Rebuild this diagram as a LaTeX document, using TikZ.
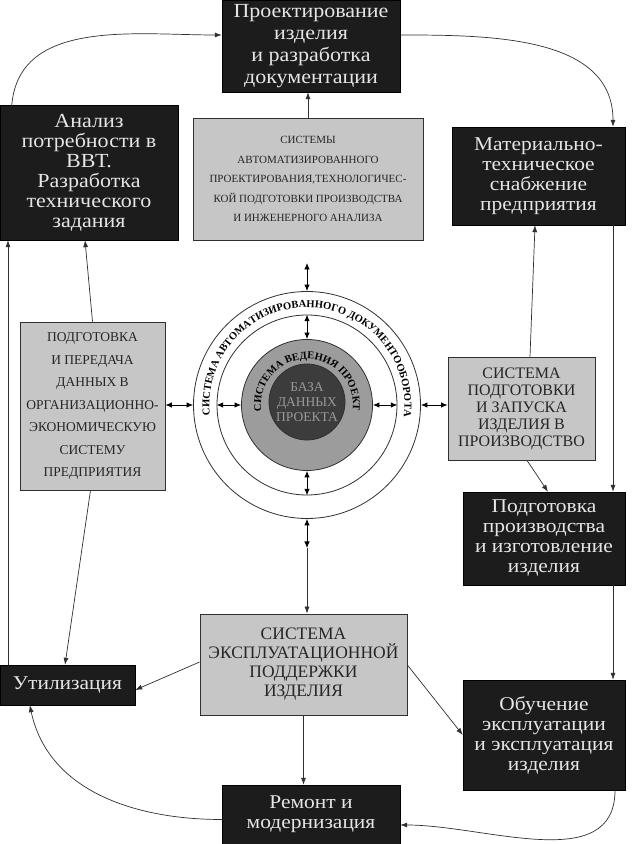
\documentclass[tikz,border=0pt]{standalone}
\usepackage{fontspec}
\setmainfont{Liberation Serif}
\newfontfamily\widefont[FakeStretch=1.1]{Liberation Serif}
\usetikzlibrary{arrows.meta,decorations.text}
\definecolor{boxblack}{HTML}{1C1C1C}
\definecolor{boxgrey}{HTML}{C6C6C6}
\definecolor{ln}{HTML}{303030}
\definecolor{disk}{HTML}{9C9C9C}
\definecolor{core}{HTML}{3C3C3C}
\begin{document}
\begin{tikzpicture}[x=1pt,y=1pt,
 blk/.style={draw=black, fill=boxblack, text=white!90!black, align=center, inner sep=0pt, font=\widefont\fontsize{19.5}{20}\selectfont},
 gry/.style={draw=ln, line width=0.8pt, fill=boxgrey, text=black!85, align=center, inner sep=0pt},
 conn/.style={draw=ln, line width=0.7pt, -{Latex[length=7pt,width=5pt]}},
 dbl/.style={draw=black, line width=0.9pt, {Latex[length=6.5pt,width=5.5pt]}-{Latex[length=6.5pt,width=5.5pt]}},
 ring/.style={circle, draw=ln, line width=0.8pt, inner sep=0pt},
]
\useasboundingbox (0,0) rectangle (640,844);
\fill[white] (0,0) rectangle (640,844);

% boxes
\node[blk, minimum width=178pt, minimum height=92pt, font=\widefont\fontsize{20}{22}\selectfont] (proj) at (311,798) {Проектирование\\изделия\\и разработка\\документации};
\node[blk, minimum width=178pt, minimum height=135pt, font=\widefont\fontsize{20}{20}\selectfont] (analiz) at (89,671.5) {Анализ\\потребности в\\ВВТ.\\Разработка\\технического\\задания};
\node[gry, minimum width=230pt, minimum height=122pt, font=\fontsize{11}{19.5}\selectfont] (systop) at (308,665) {СИСТЕМЫ\\АВТОМАТИЗИРОВАННОГО\\ПРОЕКТИРОВАНИЯ,ТЕХНОЛОГИЧЕС-\\КОЙ ПОДГОТОВКИ ПРОИЗВОДСТВА\\И ИНЖЕНЕРНОГО АНАЛИЗА};
\node[blk, minimum width=173pt, minimum height=98pt] (mat) at (538.5,668) {Материально-\\техническое\\снабжение\\предприятия};
\node[gry, minimum width=145pt, minimum height=168pt, font=\fontsize{13.5}{22.5}\selectfont] (lgry) at (92.5,438) {ПОДГОТОВКА\\И ПЕРЕДАЧА\\ДАННЫХ В\\ОРГАНИЗАЦИОННО-\\ЭКОНОМИЧЕСКУЮ\\СИСТЕМУ\\ПРЕДПРИЯТИЯ};
\node[gry, minimum width=147pt, minimum height=103pt, font=\fontsize{16}{17}\selectfont] (rgry) at (521.5,435.5) {СИСТЕМА\\ПОДГОТОВКИ\\И ЗАПУСКА\\ИЗДЕЛИЯ В\\ПРОИЗВОДСТВО};
\node[blk, minimum width=162pt, minimum height=93pt] (podg) at (544,305.5) {Подготовка\\производства\\и изготовление\\изделия};
\node[gry, minimum width=207pt, minimum height=101pt, font=\fontsize{17.5}{19}\selectfont] (sysbot) at (303.5,179.5) {СИСТЕМА\\ЭКСПЛУАТАЦИОННОЙ\\ПОДДЕРЖКИ\\ИЗДЕЛИЯ};
\node[blk, minimum width=135pt, minimum height=40pt] (util) at (67.5,159) {Утилизация};
\node[blk, minimum width=162pt, minimum height=110pt] (obuch) at (544,109) {Обучение\\эксплуатации\\и эксплуатация\\изделия};
\node[blk, minimum width=178pt, minimum height=59pt] (rem) at (311,29.5) {Ремонт и\\модернизация};

% circles
\coordinate (C) at (307,439);
\node[ring, fill=white, minimum size=227pt] (outer) at (C) {};
\node[ring, minimum size=180pt] (inring) at (C) {};
\node[ring, fill=disk, minimum size=131pt] (disk) at (C) {};
\node[ring, fill=core, minimum size=76pt, text=white!60!black, align=center, font=\fontsize{13.5}{15}\selectfont] (core) at (307,442) {БАЗА\\ДАННЫХ\\ПРОЕКТА};

\path[decorate, decoration={text along path, text align={fit to path},
  text={|\fontsize{10.5}{11}\selectfont\bfseries|СИСТЕМА АВТОМАТИЗИРОВАННОГО ДОКУМЕНТООБОРОТА}}]
  ([shift={(186:97.5)}]C) arc[start angle=186, end angle=-6, radius=97.5];
\path[decorate, decoration={text along path, text align={fit to path},
  text={|\fontsize{10.5}{11}\selectfont\bfseries|СИСТЕМА ВЕДЕНИЯ ПРОЕКТА}}]
  ([shift={(188:46)}]C) arc[start angle=188, end angle=-8, radius=46];

% double arrows around the circles
\coordinate (ta) at (307,581);
\coordinate (ba) at (307,296);
\draw[dbl] (ta) -- (outer.north);
\draw[dbl] (inring.north) -- (disk.north);
\draw[dbl] (lgry.east |- C) -- (outer.west);
\draw[dbl] (inring.west) -- (disk.west);
\draw[dbl] (disk.east) -- (inring.east);
\draw[dbl] (outer.east) -- (rgry.west |- C);
\draw[dbl] (disk.south) -- (inring.south);
\draw[dbl] (outer.south) -- (ba);
\draw[conn] (ba) -- (ba |- sysbot.north);

% connectors
\coordinate (rx) at (613,0);
\coordinate (lx) at (8,0);
\draw[conn] ([xshift=12pt]analiz.north west) to[out=85, in=180] ([yshift=11pt]proj.west);
\draw[conn] ([yshift=11pt]proj.east) to[out=0, in=90] (mat.north -| rx);
\draw[conn] (systop.north) -- (systop.north |- proj.south);
\draw[conn] (util.north -| lx) -- (analiz.south -| lx);
\draw[conn] (lgry.north) -- ([xshift=-4pt]analiz.south);
\draw[conn] ([xshift=-2pt]lgry.south) -- ([xshift=-2.5pt]util.north);
\draw[conn] ([yshift=2.5pt]sysbot.west) -- ([yshift=-5pt]util.east);
\draw[conn] ([yshift=-0.5pt]sysbot.east) -- (obuch.west);
\draw[conn] (sysbot.south) -- (sysbot.south |- rem.north);
\draw[conn] ([xshift=71pt]obuch.south) to[out=-90, in=0] ([yshift=-10.5pt]rem.east);
\draw[conn] ([yshift=-5pt]rem.west) to[out=180, in=-78] ([xshift=30pt]util.south west);
\draw[conn] (mat.south -| rx) -- (podg.north -| rx);
\draw[conn] (podg.south -| rx) -- (obuch.north -| rx);
\draw[conn] ([xshift=8.5pt]rgry.north) -- ([xshift=-3.5pt]mat.south);
\draw[conn] ([xshift=5.5pt]rgry.south) -- ([xshift=4pt]podg.north);
\end{tikzpicture}
\end{document}
